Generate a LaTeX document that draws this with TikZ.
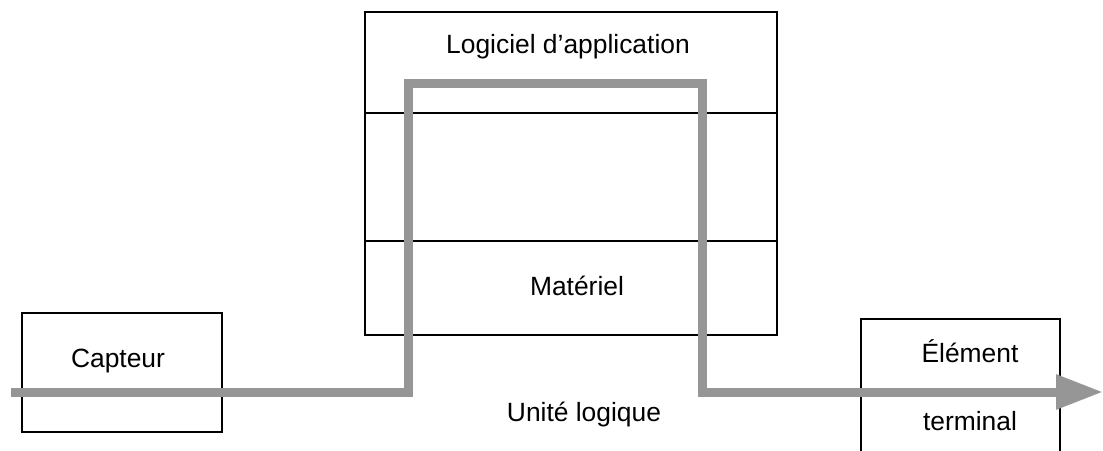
\documentclass[tikz,border=0pt]{standalone}
\usepackage{fontspec}
\setmainfont{Liberation Sans}
\usetikzlibrary{arrows.meta}
\definecolor{flowgray}{RGB}{150,150,150}

\begin{document}
\begin{tikzpicture}[x=0.5pt,y=0.5pt,
  box/.style={draw,line width=0.85pt,inner sep=0pt},
  txt/.style={anchor=base,inner sep=0pt,font=\fontsize{13.2pt}{15pt}\selectfont},
  flow/.style={draw=flowgray,line width=4.5pt,-{Triangle[length=23.5pt,width=16.5pt]}}]
\useasboundingbox (0,0) rectangle (1103,450);
% The boxes
\node[box,minimum width=200pt/2,minimum height=119pt/2] (capteur) at (122,77.5) {};
\node[box,minimum width=412pt/2,minimum height=323pt/2] (unite) at (571,276.5) {};
\node[box,minimum width=199pt/2,minimum height=171pt/2] (terminal) at (960.5,45.5) {};
% The layers of the logical unit
\draw[line width=0.85pt] (unite.west |- 0,337) -- (unite.east |- 0,337);
\draw[line width=0.85pt] (unite.west |- 0,209) -- (unite.east |- 0,209);
% The labels
\node[txt] (logiciel) at (568,396.7) {Logiciel d’application};
\node[txt] (materiel) at (577,154) {Matériel};
\node[txt] (unitelbl) at (584,29) {Unité logique};
\node[txt] (capteurlbl) at (118,83) {Capteur};
\node[txt] (elementlbl) at (970,88) {Élément};
\node[txt] (terminallbl) at (970,20) {terminal};
% The signal path
\coordinate (in) at (10.7,58);
\coordinate (out) at (1103,58);
\draw[flow] (in) -| (408.5,366) -| (702,58) -- (out);
\end{tikzpicture}
\end{document}
